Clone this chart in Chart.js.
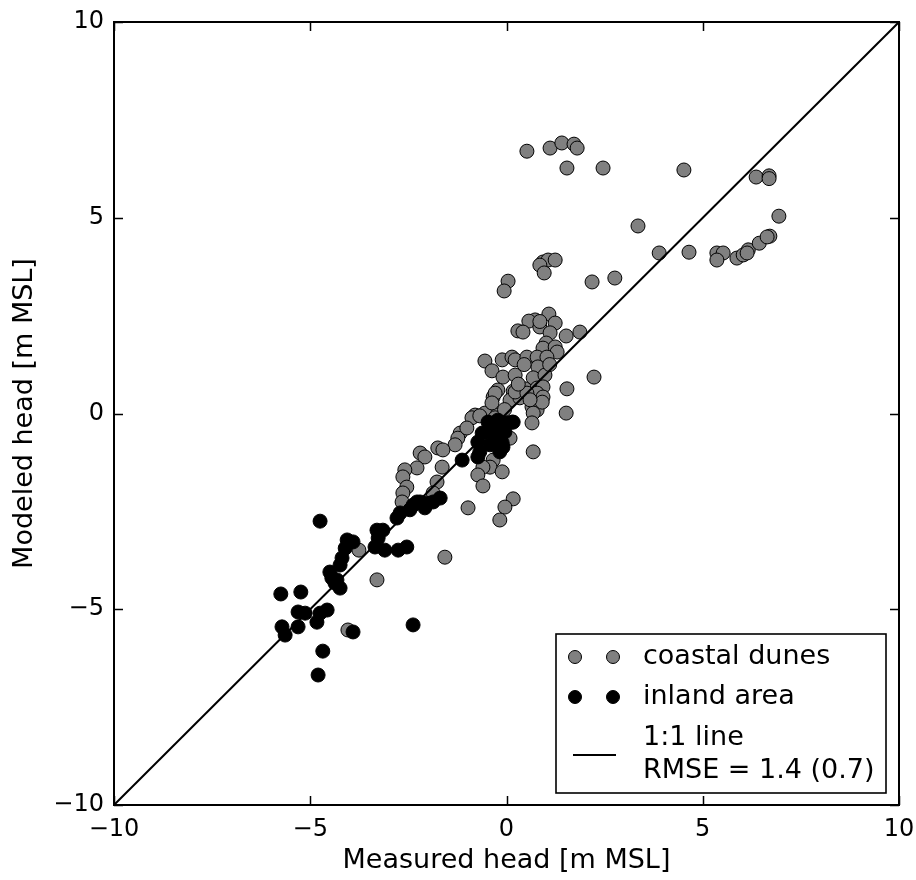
<!DOCTYPE html>
<html>
<head>
<meta charset="utf-8">
<script src="https://cdn.jsdelivr.net/npm/chart.js@4/dist/chart.umd.min.js"></script>
<style>
  html, body { margin: 0; padding: 0; background: #ffffff; }
  #wrap { width: 916px; height: 880px; position: relative; }
  canvas { display: block; }
</style>
</head>
<body>
<div id="wrap"><canvas id="c" width="916" height="880"></canvas></div>
<script>
// ---- data ----
const coastalMeasured = [0.52,1.11,1.41,1.72,1.80,1.54,2.46,4.52,6.36,6.69,6.69,6.94,3.35,3.89,4.65,5.36,5.52,5.36,5.87,6.03,6.16,6.13,6.44,6.71,6.64,
  0.93,1.06,1.24,0.85,0.96,0.04,-0.06,2.18,2.76,1.08,0.73,0.57,1.24,0.29,0.42,0.85,1.11,1.52,1.87,1.01,0.93,1.24,1.29,
  -0.55,-0.11,0.14,0.22,0.52,0.78,1.03,-0.37,-0.09,0.22,0.80,0.68,0.98,2.23,-0.22,0.17,0.47,0.78,0.93,1.54,
  -0.34,0.09,0.34,0.78,0.93,0.65,0.78,1.52,-0.80,-0.55,-0.24,-0.29,0.22,0.52,0.91,-0.37,-0.88,-0.68,-0.29,0.68,0.65,
  -1.18,-1.24,-1.01,0.09,-1.31,-1.75,-2.20,-2.08,-1.64,-2.28,-2.59,-2.64,-2.54,-2.64,-1.77,-1.87,
  0.68,-0.34,-0.42,-0.60,-0.73,-0.11,-0.60,-0.98,0.17,-0.04,-0.17,-1.62,-2.66,-3.76,-3.30,-1.57,-4.04,
  0.45,0.30,0.60,-0.05,1.10,0.85];
const coastalModeled = [6.70,6.78,6.91,6.88,6.78,6.27,6.27,6.22,6.04,6.07,6.00,5.04,4.79,4.10,4.12,4.10,4.10,3.92,3.97,4.05,4.18,4.10,4.35,4.53,4.51,
  3.87,3.92,3.92,3.79,3.59,3.38,3.13,3.36,3.46,2.54,2.39,2.36,2.31,2.11,2.08,2.21,2.06,1.98,2.08,1.80,1.67,1.70,1.57,
  1.34,1.37,1.44,1.37,1.44,1.44,1.44,1.09,0.93,0.98,1.19,0.91,0.98,0.93,0.60,0.57,0.63,0.65,0.68,0.63,
  0.42,0.34,0.40,0.52,0.42,0.17,0.09,0.01,-0.04,0.01,-0.04,0.52,0.55,0.52,0.29,0.27,-0.11,-0.06,-0.11,0.01,-0.24,
  -0.50,-0.63,-0.37,-0.63,-0.80,-0.88,-1.01,-1.11,-1.37,-1.39,-1.44,-1.62,-1.88,-2.03,-1.75,-2.03,
  -0.98,-1.19,-1.37,-1.37,-1.57,-1.49,-1.85,-2.41,-2.18,-2.39,-2.72,-0.93,-2.26,-3.49,-4.25,-3.67,-5.53,
  1.25,0.75,0.35,0.10,1.25,2.35];

const inlandMeasured = [0.14,-0.47,-0.22,0.01,0.17,-0.29,-0.04,-0.62,-0.50,-0.29,-0.04,-0.37,-0.17,-0.73,-0.42,-0.11,-0.68,-0.73,-1.13,-0.09,-0.17,
  -1.69,-1.87,-2.03,-2.20,-2.28,-2.08,-2.38,-2.46,-2.71,-2.79,-3.15,-3.30,-3.27,-3.35,-3.10,-2.76,-2.54,
  -4.06,-3.91,-4.11,-4.19,-4.24,-4.50,-4.45,-4.32,-4.37,-4.24,-4.75,-5.75,-5.24,-5.31,-5.13,-4.75,-4.57,-4.83,
  -5.72,-5.31,-5.64,-3.91,-2.38,-4.68,-4.80];
const inlandModeled = [-0.22,-0.22,-0.17,-0.24,-0.22,-0.24,-0.29,-0.50,-0.47,-0.60,-0.47,-0.42,-0.47,-0.73,-0.80,-0.75,-0.98,-1.11,-1.19,-0.86,-0.98,
  -2.16,-2.26,-2.29,-2.26,-2.26,-2.41,-2.34,-2.46,-2.54,-2.67,-2.98,-2.98,-3.18,-3.41,-3.49,-3.49,-3.41,
  -3.23,-3.28,-3.44,-3.69,-3.87,-4.05,-4.20,-4.25,-4.33,-4.46,-2.75,-4.61,-4.56,-5.07,-5.10,-5.10,-5.02,-5.33,
  -5.45,-5.45,-5.66,-5.58,-5.40,-6.07,-6.68];

const oneToOneLine = [-10, 10];
const axisRange = [-10, 10];
const tickStep = 5;

const seriesNames = ['coastal dunes', 'inland area', '1:1 line', 'RMSE = 1.4 (0.7)'];
const xTitle = 'Measured head [m MSL]';
const yTitle = 'Modeled head [m MSL]';

// ---- build chart ----
const FONT = "'DejaVu Sans', 'Bitstream Vera Sans', sans-serif";
const GRAY = '#808080';

function pairs(xs, ys) { return xs.map((x, i) => ({ x: x, y: ys[i] })); }
function fmt(v) { return String(v).replace('-', '\u2212'); }

const framePlugin = {
  id: 'framePlugin',
  afterDraw(chart) {
    const ctx = chart.ctx;
    const a = chart.chartArea;
    const xs = chart.scales.x, ys = chart.scales.y;
    ctx.save();
    // inward ticks on all four sides
    ctx.strokeStyle = '#000';
    ctx.lineWidth = 1.5;
    const TL = 9;
    xs.ticks.forEach(t => {
      const px = Math.round(xs.getPixelForValue(t.value)) + 0.5;
      ctx.beginPath();
      ctx.moveTo(px, a.bottom); ctx.lineTo(px, a.bottom - TL);
      ctx.moveTo(px, a.top); ctx.lineTo(px, a.top + TL);
      ctx.stroke();
    });
    ys.ticks.forEach(t => {
      const py = Math.round(ys.getPixelForValue(t.value)) + 0.5;
      ctx.beginPath();
      ctx.moveTo(a.left, py); ctx.lineTo(a.left + TL, py);
      ctx.moveTo(a.right, py); ctx.lineTo(a.right - TL, py);
      ctx.stroke();
    });
    // frame
    ctx.lineWidth = 2;
    ctx.strokeRect(a.left, a.top, a.right - a.left, a.bottom - a.top);

    // legend box (lower right, inside axes)
    const bw = 330, bh = 159;
    const bx = a.right - 13 - bw, by = a.bottom - 12 - bh;
    ctx.fillStyle = '#fff';
    ctx.fillRect(bx, by, bw, bh);
    ctx.lineWidth = 1.6;
    ctx.strokeRect(bx, by, bw, bh);

    const mx1 = bx + 19, mx2 = bx + 57, tx = bx + 87;
    const rows = [by + 23, by + 63];
    const cols = [GRAY, '#000'];
    rows.forEach((ry, i) => {
      [mx1, mx2].forEach(mx => {
        ctx.beginPath();
        ctx.arc(mx, ry, 6.5, 0, Math.PI * 2);
        ctx.fillStyle = cols[i];
        ctx.fill();
        ctx.lineWidth = 1;
        ctx.strokeStyle = '#000';
        ctx.stroke();
      });
    });
    ctx.fillStyle = '#000';
    ctx.font = '27px ' + FONT;
    ctx.textBaseline = 'middle';
    ctx.textAlign = 'left';
    ctx.fillText(seriesNames[0], tx, rows[0]);
    ctx.fillText(seriesNames[1], tx, rows[1]);
    ctx.fillText(seriesNames[2], tx, by + 104);
    ctx.fillText(seriesNames[3], tx, by + 137);
    ctx.beginPath();
    ctx.lineWidth = 2;
    ctx.moveTo(bx + 17, by + 121);
    ctx.lineTo(bx + 60, by + 121);
    ctx.stroke();
    ctx.restore();
  }
};

new Chart(document.getElementById('c'), {
  type: 'scatter',
  data: {
    datasets: [
      {
        type: 'line',
        label: seriesNames[2],
        data: pairs(oneToOneLine, oneToOneLine),
        borderColor: '#000',
        borderWidth: 2,
        pointRadius: 0,
        fill: false,
        order: 0
      },
      {
        label: seriesNames[1],
        data: pairs(inlandMeasured, inlandModeled),
        backgroundColor: '#000',
        borderColor: '#000',
        borderWidth: 1,
        pointRadius: 7,
        order: 1
      },
      {
        label: seriesNames[0],
        data: pairs(coastalMeasured, coastalModeled),
        backgroundColor: GRAY,
        borderColor: '#000',
        borderWidth: 1,
        pointRadius: 7,
        order: 2
      }
    ]
  },
  options: {
    responsive: false,
    devicePixelRatio: 1,
    animation: false,
    events: [],
    layout: { padding: { left: 0, right: 17, top: 22, bottom: 0 } },
    plugins: {
      legend: { display: false },
      tooltip: { enabled: false }
    },
    scales: {
      x: {
        type: 'linear',
        min: axisRange[0], max: axisRange[1],
        grid: { display: false, drawTicks: false },
        border: { display: false },
        ticks: {
          stepSize: tickStep,
          color: '#000',
          font: { family: FONT, size: 24 },
          padding: 10,
          maxRotation: 0,
          callback: v => fmt(v)
        },
        title: {
          display: true, text: xTitle, color: '#000',
          font: { family: FONT, size: 27 },
          padding: { top: 0, bottom: 3 }
        },
        afterFit(s) { s.height = 75; s.paddingLeft = 0; s.paddingRight = 0; }
      },
      y: {
        type: 'linear',
        min: axisRange[0], max: axisRange[1],
        grid: { display: false, drawTicks: false },
        border: { display: false },
        ticks: {
          stepSize: tickStep,
          color: '#000',
          font: { family: FONT, size: 24 },
          padding: 10,
          callback: v => fmt(v)
        },
        title: {
          display: true, text: yTitle, color: '#000',
          font: { family: FONT, size: 27 },
          padding: { top: 9, bottom: 0 }
        },
        afterFit(s) { s.width = 114; s.paddingTop = 0; s.paddingBottom = 0; }
      }
    }
  },
  plugins: [framePlugin]
});
</script>
</body>
</html>
